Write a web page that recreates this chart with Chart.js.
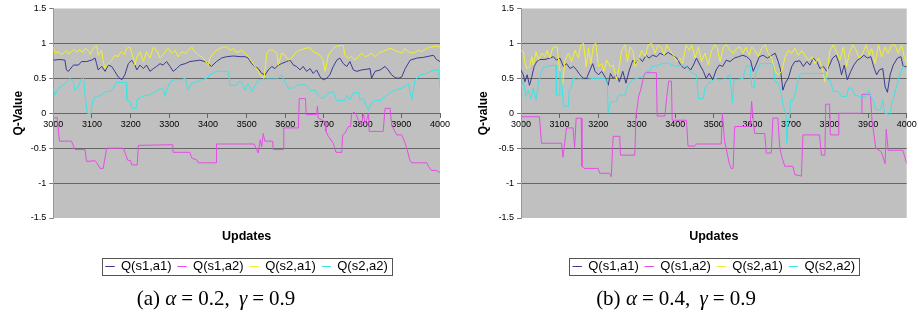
<!DOCTYPE html>
<html>
<head>
<meta charset="utf-8">
<script src="https://cdn.jsdelivr.net/npm/chart.js@4.4.1/dist/chart.umd.min.js"></script>
<style>
  html, body { margin: 0; padding: 0; background: #fff; }
  body { width: 919px; height: 326px; position: relative; overflow: hidden; }
  .cv { position: absolute; top: 0; }
  .cap { position: absolute; top: 286px; font-family: "Liberation Serif", serif; font-size: 21px; color: #000; white-space: nowrap; transform: translateX(-50%); }
  .cap i { font-style: italic; }
  .cap .eq { margin: 0 5px; }
  .cap .sp { margin-left: 4px; }
</style>
</head>
<body>
<div class="cv" style="left:0;width:455px;height:288px"><canvas id="c1"></canvas></div>
<div class="cv" style="left:460px;width:459px;height:288px"><canvas id="c2"></canvas></div>
<div class="cap" style="left:216px">(a) <i>α</i><span class="eq">=</span>0.2,<span class="sp"></span> <i>γ</i><span class="eq">=</span>0.9</div>
<div class="cap" style="left:676px">(b) <i>α</i><span class="eq">=</span>0.4,<span class="sp"></span> <i>γ</i><span class="eq">=</span>0.9</div>
<script>
// ---------- data ----------
const seriesNames = ["Q(s1,a1)", "Q(s1,a2)", "Q(s2,a1)", "Q(s2,a2)"];
const xTickLabels = [3000, 3100, 3200, 3300, 3400, 3500, 3600, 3700, 3800, 3900, 4000];
const yTickLabels = [-1.5, -1, -0.5, 0, 0.5, 1, 1.5];

// (a) alpha = 0.2
const aS1A1 = [[3000,0.76],[3017,0.77],[3030,0.76],[3034,0.62],[3039,0.60],[3052,0.69],[3065,0.69],[3073,0.74],[3086,0.74],[3099,0.76],[3108,0.79],[3112,0.71],[3116,0.62],[3125,0.67],[3134,0.60],[3142,0.69],[3151,0.67],[3159,0.60],[3168,0.52],[3177,0.48],[3185,0.55],[3194,0.71],[3203,0.76],[3211,0.69],[3216,0.62],[3224,0.69],[3233,0.64],[3241,0.69],[3250,0.60],[3259,0.64],[3267,0.67],[3276,0.71],[3284,0.69],[3293,0.74],[3302,0.67],[3310,0.60],[3319,0.64],[3328,0.69],[3341,0.71],[3353,0.74],[3366,0.75],[3379,0.76],[3392,0.74],[3401,0.71],[3409,0.67],[3422,0.74],[3435,0.79],[3448,0.81],[3466,0.82],[3483,0.81],[3496,0.81],[3504,0.79],[3513,0.71],[3522,0.67],[3530,0.64],[3539,0.57],[3548,0.55],[3556,0.62],[3565,0.67],[3573,0.64],[3582,0.69],[3590,0.71],[3603,0.74],[3612,0.76],[3621,0.69],[3629,0.67],[3638,0.62],[3646,0.67],[3655,0.60],[3664,0.64],[3672,0.57],[3681,0.62],[3690,0.52],[3698,0.48],[3707,0.50],[3715,0.55],[3724,0.67],[3733,0.76],[3741,0.79],[3750,0.71],[3759,0.67],[3767,0.74],[3776,0.62],[3785,0.60],[3797,0.62],[3810,0.63],[3819,0.64],[3823,0.50],[3832,0.60],[3845,0.62],[3858,0.67],[3866,0.62],[3875,0.55],[3884,0.51],[3892,0.50],[3901,0.52],[3910,0.64],[3923,0.76],[3940,0.79],[3957,0.80],[3974,0.82],[3983,0.83],[3991,0.77],[4000,0.74]];
const aS1A2 = [[3000,-0.05],[3004,-0.07],[3010,-0.06],[3016,-0.40],[3047,-0.40],[3056,-0.52],[3082,-0.52],[3086,-0.69],[3108,-0.68],[3112,-0.71],[3121,-0.79],[3129,-0.79],[3138,-0.50],[3181,-0.50],[3188,-0.60],[3192,-0.67],[3200,-0.68],[3203,-0.74],[3217,-0.74],[3220,-0.46],[3309,-0.45],[3310,-0.56],[3353,-0.56],[3358,-0.64],[3371,-0.67],[3375,-0.71],[3421,-0.71],[3422,-0.44],[3519,-0.44],[3526,-0.52],[3530,-0.57],[3535,-0.38],[3539,-0.48],[3543,-0.29],[3547,-0.40],[3567,-0.40],[3569,-0.52],[3595,-0.52],[3596,-0.21],[3634,-0.21],[3636,0.21],[3652,0.21],[3654,-0.02],[3681,-0.02],[3683,0.10],[3685,-0.07],[3703,-0.12],[3705,-0.26],[3711,-0.33],[3724,-0.43],[3731,-0.56],[3746,-0.56],[3748,-0.31],[3754,-0.29],[3763,-0.19],[3769,-0.19],[3771,-0.02],[3778,0.02],[3783,-0.02],[3789,-0.10],[3797,-0.17],[3802,0.00],[3806,-0.14],[3810,-0.10],[3815,0.00],[3817,-0.26],[3853,-0.26],[3858,0.07],[3871,0.07],[3875,-0.17],[3888,-0.31],[3901,-0.31],[3910,-0.43],[3915,-0.52],[3922,-0.67],[3927,-0.71],[3966,-0.71],[3970,-0.76],[3978,-0.82],[3991,-0.82],[4000,-0.85]];
const aS2A1 = [[3000,0.95],[3004,0.86],[3013,0.88],[3020,0.84],[3026,0.86],[3034,0.90],[3040,0.85],[3047,0.88],[3054,0.92],[3060,0.88],[3069,0.91],[3075,0.87],[3082,0.93],[3090,0.90],[3096,0.84],[3103,0.93],[3112,0.97],[3116,0.83],[3125,0.90],[3129,0.74],[3134,0.64],[3142,0.71],[3151,0.76],[3159,0.83],[3168,0.81],[3172,0.86],[3177,0.88],[3184,0.84],[3190,0.93],[3198,0.95],[3203,0.86],[3207,0.79],[3211,0.69],[3216,0.81],[3224,0.88],[3233,0.74],[3241,0.88],[3250,0.79],[3259,0.95],[3267,0.90],[3276,0.79],[3280,0.81],[3289,0.88],[3297,0.93],[3306,0.86],[3315,0.90],[3323,0.81],[3332,0.88],[3341,0.86],[3349,0.90],[3358,0.95],[3366,0.88],[3375,0.83],[3384,0.81],[3392,0.76],[3401,0.69],[3405,0.79],[3414,0.86],[3422,0.90],[3431,0.93],[3440,0.95],[3448,0.95],[3457,0.90],[3466,0.93],[3472,0.87],[3478,0.88],[3487,0.90],[3496,0.86],[3504,0.81],[3513,0.74],[3522,0.67],[3530,0.60],[3539,0.52],[3545,0.50],[3552,0.86],[3560,0.91],[3569,0.90],[3578,0.86],[3582,0.69],[3590,0.86],[3599,0.83],[3608,0.76],[3616,0.79],[3625,0.86],[3634,0.90],[3642,0.91],[3651,0.93],[3664,0.94],[3672,0.88],[3681,0.86],[3690,0.83],[3698,0.76],[3703,0.60],[3711,0.83],[3720,0.90],[3728,0.95],[3741,0.97],[3750,0.97],[3754,0.83],[3763,0.79],[3771,0.81],[3780,0.76],[3789,0.81],[3797,0.86],[3806,0.81],[3815,0.83],[3823,0.86],[3832,0.81],[3841,0.86],[3849,0.88],[3858,0.90],[3871,0.93],[3884,0.90],[3892,0.88],[3901,0.86],[3910,0.93],[3918,0.88],[3931,0.86],[3944,0.90],[3953,0.88],[3966,0.93],[3978,0.95],[3991,0.96],[4000,0.95]];
const aS2A2 = [[3000,0.36],[3004,0.26],[3013,0.36],[3026,0.40],[3034,0.45],[3043,0.50],[3052,0.45],[3056,0.33],[3065,0.38],[3073,0.50],[3078,0.52],[3082,0.26],[3088,0.00],[3097,-0.01],[3102,0.19],[3112,0.24],[3125,0.26],[3134,0.31],[3147,0.31],[3155,0.36],[3164,0.45],[3168,0.44],[3189,0.44],[3190,0.19],[3198,0.17],[3203,0.07],[3214,0.07],[3216,0.19],[3228,0.24],[3246,0.26],[3259,0.29],[3271,0.33],[3284,0.36],[3289,0.24],[3293,0.33],[3302,0.45],[3315,0.48],[3332,0.48],[3341,0.50],[3349,0.33],[3358,0.43],[3371,0.45],[3384,0.48],[3397,0.50],[3405,0.55],[3422,0.60],[3453,0.60],[3457,0.40],[3474,0.40],[3478,0.45],[3487,0.45],[3496,0.33],[3504,0.43],[3513,0.31],[3522,0.40],[3530,0.48],[3543,0.48],[3552,0.49],[3578,0.49],[3590,0.55],[3599,0.45],[3608,0.36],[3621,0.36],[3629,0.40],[3646,0.41],[3655,0.40],[3664,0.33],[3677,0.33],[3685,0.26],[3694,0.21],[3703,0.24],[3711,0.29],[3724,0.31],[3733,0.18],[3754,0.18],[3759,0.26],[3767,0.19],[3776,0.29],[3789,0.30],[3793,0.19],[3802,0.21],[3809,0.12],[3815,0.04],[3821,0.14],[3832,0.19],[3845,0.18],[3862,0.26],[3875,0.31],[3888,0.34],[3901,0.36],[3910,0.38],[3918,0.43],[3927,0.19],[3936,0.48],[3949,0.55],[3966,0.57],[3983,0.62],[3996,0.62],[4000,0.36]];

// (b) alpha = 0.4
const bS1A1 = [[3000,0.62],[3006,0.55],[3010,0.45],[3016,0.55],[3022,0.40],[3028,0.52],[3034,0.67],[3041,0.74],[3049,0.77],[3062,0.77],[3075,0.79],[3084,0.81],[3092,0.76],[3101,0.79],[3110,0.67],[3118,0.71],[3127,0.64],[3136,0.67],[3144,0.62],[3153,0.55],[3162,0.50],[3170,0.50],[3179,0.62],[3186,0.71],[3192,0.60],[3201,0.55],[3209,0.60],[3218,0.52],[3226,0.40],[3232,0.57],[3239,0.50],[3248,0.55],[3255,0.45],[3264,0.60],[3272,0.43],[3281,0.62],[3290,0.76],[3298,0.71],[3307,0.79],[3315,0.74],[3324,0.83],[3332,0.79],[3341,0.83],[3352,0.81],[3360,0.86],[3371,0.83],[3382,0.87],[3393,0.83],[3404,0.79],[3414,0.69],[3423,0.64],[3431,0.67],[3440,0.62],[3447,0.69],[3455,0.79],[3464,0.69],[3473,0.60],[3480,0.50],[3488,0.57],[3497,0.48],[3506,0.62],[3514,0.69],[3523,0.67],[3532,0.76],[3542,0.74],[3553,0.79],[3564,0.81],[3575,0.83],[3585,0.81],[3595,0.76],[3602,0.60],[3609,0.69],[3618,0.81],[3628,0.83],[3639,0.79],[3650,0.83],[3659,0.86],[3667,0.74],[3673,0.62],[3679,0.33],[3685,0.43],[3693,0.50],[3702,0.67],[3710,0.74],[3723,0.75],[3732,0.67],[3741,0.74],[3749,0.69],[3758,0.79],[3767,0.74],[3775,0.64],[3784,0.67],[3793,0.60],[3800,0.69],[3808,0.79],[3817,0.83],[3825,0.71],[3831,0.55],[3838,0.69],[3846,0.48],[3855,0.60],[3863,0.69],[3872,0.76],[3881,0.79],[3889,0.83],[3898,0.79],[3907,0.81],[3916,0.64],[3922,0.55],[3929,0.62],[3938,0.64],[3944,0.38],[3950,0.30],[3957,0.55],[3965,0.69],[3976,0.79],[3985,0.81],[3991,0.67],[4000,0.67]];
const bS1A2 = [[3000,-0.05],[3048,-0.05],[3053,-0.43],[3105,-0.43],[3109,-0.63],[3113,-0.43],[3118,-0.21],[3135,-0.21],[3139,-0.49],[3143,-0.07],[3156,-0.07],[3158,-0.76],[3165,-0.79],[3200,-0.79],[3204,-0.86],[3230,-0.86],[3234,-0.91],[3239,-0.33],[3256,-0.33],[3258,-0.60],[3295,-0.60],[3298,-0.05],[3305,0.24],[3310,0.33],[3318,0.52],[3322,0.58],[3351,0.58],[3353,-0.04],[3373,-0.04],[3378,0.24],[3383,0.46],[3390,0.46],[3392,-0.10],[3429,-0.10],[3433,-0.47],[3450,-0.47],[3455,-0.44],[3519,-0.44],[3522,0.00],[3528,-0.40],[3540,-0.72],[3545,-0.79],[3550,-0.79],[3554,-0.19],[3594,-0.19],[3598,0.17],[3602,-0.10],[3606,-0.29],[3632,-0.29],[3636,-0.57],[3649,-0.57],[3653,-0.07],[3666,-0.07],[3671,-0.50],[3676,-0.62],[3684,-0.76],[3705,-0.76],[3710,-0.88],[3727,-0.90],[3731,-0.31],[3774,-0.31],[3779,-0.60],[3788,-0.60],[3790,0.13],[3800,0.13],[3802,-0.31],[3822,-0.31],[3824,0.00],[3882,0.00],[3884,0.27],[3906,0.27],[3910,-0.10],[3920,-0.50],[3934,-0.55],[3944,-0.72],[3947,-0.23],[3952,-0.53],[3990,-0.53],[4000,-0.72]];
const bS2A1 = [[3000,0.90],[3006,0.88],[3010,0.74],[3015,0.64],[3023,0.67],[3028,0.81],[3032,0.69],[3039,0.88],[3045,0.76],[3054,0.86],[3062,0.81],[3068,0.90],[3075,0.79],[3082,0.93],[3088,0.95],[3094,0.95],[3099,0.67],[3108,0.42],[3114,0.76],[3123,0.86],[3131,0.74],[3140,0.90],[3149,0.79],[3155,0.98],[3162,1.00],[3169,0.67],[3175,0.93],[3181,0.71],[3188,0.98],[3194,1.00],[3201,0.67],[3209,0.71],[3215,0.60],[3222,0.76],[3231,0.67],[3239,0.69],[3248,0.48],[3255,0.67],[3261,0.90],[3270,0.98],[3276,0.74],[3283,0.95],[3290,0.90],[3296,0.67],[3304,0.76],[3313,0.90],[3322,0.81],[3330,0.98],[3339,1.00],[3347,0.86],[3356,0.98],[3365,0.93],[3371,0.83],[3378,0.98],[3386,0.90],[3395,0.83],[3404,0.74],[3412,0.79],[3419,0.71],[3428,0.98],[3436,0.90],[3443,0.98],[3451,0.79],[3460,0.95],[3468,0.74],[3477,0.86],[3486,0.69],[3494,0.90],[3503,0.98],[3509,0.93],[3516,0.74],[3525,0.95],[3533,0.98],[3542,0.90],[3551,0.86],[3559,0.93],[3568,0.95],[3576,0.86],[3583,0.95],[3592,0.83],[3598,0.95],[3607,0.90],[3615,0.81],[3624,0.93],[3633,0.98],[3641,0.86],[3650,0.79],[3659,0.60],[3667,0.55],[3676,0.60],[3685,0.81],[3693,0.90],[3702,0.86],[3710,0.93],[3719,0.83],[3728,0.90],[3736,0.83],[3745,0.76],[3754,0.81],[3762,0.71],[3771,0.79],[3780,0.67],[3788,0.45],[3793,0.55],[3801,0.90],[3810,0.98],[3818,0.88],[3827,0.76],[3836,0.95],[3844,0.67],[3851,0.86],[3860,0.98],[3869,0.90],[3877,0.79],[3886,0.86],[3895,0.98],[3903,0.83],[3909,0.93],[3918,0.71],[3927,0.98],[3935,0.81],[3944,0.95],[3952,0.86],[3961,0.98],[3970,0.98],[3978,0.86],[3987,0.98],[3993,0.83],[4000,0.69]];
const bS2A2 = [[3000,0.38],[3006,0.45],[3013,0.24],[3019,0.33],[3025,0.21],[3032,0.36],[3039,0.19],[3045,0.43],[3049,0.52],[3056,0.64],[3065,0.67],[3075,0.68],[3091,0.69],[3092,0.26],[3099,0.26],[3101,0.60],[3105,0.50],[3110,0.10],[3123,0.10],[3125,0.33],[3131,0.36],[3136,0.52],[3140,0.48],[3153,0.49],[3170,0.48],[3188,0.50],[3205,0.50],[3218,0.50],[3224,0.43],[3226,0.00],[3229,0.10],[3235,0.17],[3248,0.17],[3252,0.26],[3270,0.26],[3274,0.36],[3283,0.45],[3291,0.48],[3300,0.50],[3313,0.52],[3326,0.60],[3334,0.60],[3339,0.67],[3352,0.68],[3365,0.71],[3382,0.72],[3391,0.69],[3404,0.67],[3417,0.69],[3428,0.67],[3438,0.60],[3447,0.57],[3455,0.55],[3460,0.21],[3473,0.21],[3477,0.36],[3486,0.43],[3494,0.45],[3503,0.50],[3512,0.48],[3525,0.48],[3533,0.52],[3542,0.55],[3548,0.15],[3552,0.48],[3559,0.48],[3576,0.50],[3583,0.67],[3594,0.69],[3598,0.38],[3604,0.36],[3609,0.57],[3620,0.71],[3650,0.71],[3654,0.67],[3659,0.45],[3667,0.43],[3673,0.33],[3680,0.10],[3687,0.00],[3689,-0.43],[3693,-0.10],[3697,-0.02],[3699,0.19],[3706,0.19],[3713,0.33],[3719,0.52],[3728,0.57],[3788,0.57],[3793,0.48],[3801,0.48],[3810,0.31],[3823,0.31],[3831,0.24],[3844,0.24],[3849,0.36],[3858,0.36],[3865,0.26],[3879,0.24],[3892,0.23],[3901,0.33],[3907,0.24],[3914,0.19],[3920,0.05],[3932,0.05],[3938,0.19],[3941,0.05],[3944,0.00],[3957,-0.02],[3961,0.14],[3965,0.19],[3974,0.40],[3983,0.57],[3991,0.67],[4000,0.64]];

// ---------- styling ----------
const seriesColors = ["#3a3a90", "#e64ce6", "#f0f02c", "#3ce4e4"];
const drawOrder = [4, 3, 2, 1];

Chart.defaults.font.family = "'Liberation Sans', Arial, sans-serif";
Chart.defaults.color = "#000";

const plotBg = {
  id: "plotBg",
  beforeDraw(chart) {
    const {ctx, chartArea: a} = chart;
    ctx.save();
    ctx.fillStyle = "#c0c0c0";
    ctx.fillRect(a.left, a.top, a.right - a.left, a.bottom - a.top);
    ctx.restore();
  }
};
const legendFrame = {
  id: "legendFrame",
  afterDraw(chart) {
    const hb = chart.legend && chart.legend.legendHitBoxes;
    if (!hb || !hb.length) return;
    const l = Math.min(...hb.map(h => h.left)) - 4;
    const r = Math.max(...hb.map(h => h.left + h.width)) + 4;
    const t = hb[0].top - 2;
    const b = hb[0].top + hb[0].height + 2;
    const ctx = chart.ctx;
    ctx.save();
    ctx.strokeStyle = "#555";
    ctx.lineWidth = 1;
    ctx.strokeRect(Math.round(l) + 0.5, Math.round(t) + 0.5, Math.round(r - l), Math.round(b - t));
    ctx.restore();
  }
};

function makeChart(id, seriesList, yTitle, axisWidth, titlePad, rightPad) {
  const datasets = seriesList.map((pts, i) => ({
    label: seriesNames[i],
    data: pts.map(p => ({x: p[0], y: p[1]})),
    borderColor: seriesColors[i],
    backgroundColor: seriesColors[i],
    borderWidth: 1,
    pointRadius: 0,
    tension: 0,
    order: drawOrder[i]
  }));
  return new Chart(document.getElementById(id), {
    type: "line",
    data: {datasets},
    options: {
      responsive: true,
      maintainAspectRatio: false,
      animation: false,
      events: [],
      layout: {padding: {left: 0, right: rightPad, top: 8.5, bottom: 5}},
      scales: {
        x: {
          type: "linear",
          position: {y: 0},
          min: xTickLabels[0],
          max: xTickLabels[xTickLabels.length - 1],
          afterBuildTicks(s) { s.ticks = xTickLabels.map(v => ({value: v})); },
          ticks: {autoSkip: false, maxRotation: 0, padding: 2, font: {size: 9}, color: "#000",
                  callback: v => String(v)},
          grid: {drawOnChartArea: false, drawTicks: true, tickLength: 4, color: "#666"},
          border: {display: true, color: "#666", width: 1}
        },
        y: {
          min: yTickLabels[0],
          max: yTickLabels[yTickLabels.length - 1],
          afterBuildTicks(s) { s.ticks = yTickLabels.map(v => ({value: v})); },
          afterFit(s) { s.width = axisWidth; },
          ticks: {font: {size: 9}, color: "#000", padding: 3,
                  callback: v => String(Math.round(v * 10) / 10)},
          grid: {
            color: c => (Math.abs(c.tick.value) > 1.4 ? "rgba(0,0,0,0)" : "#666"),
            tickColor: "#777",
            tickLength: 4
          },
          border: {display: true, color: "#999", width: 1},
          title: {display: true, text: yTitle, font: {size: 12, weight: "bold"}, padding: {top: titlePad, bottom: 0}}
        }
      },
      plugins: {
        legend: {
          position: "bottom",
          fullSize: false,
          labels: {
            boxWidth: 9, boxHeight: 0, padding: 6,
            font: {size: 13}, color: "#000",
            sort: (a, b) => a.datasetIndex - b.datasetIndex
          }
        },
        title: {
          display: true, text: "Updates", position: "bottom", fullSize: false, weight: 500,
          font: {size: 12.5, weight: "bold"}, color: "#000",
          padding: {top: 11.5, bottom: 9.5}
        },
        tooltip: {enabled: false}
      }
    },
    plugins: [plotBg, legendFrame]
  });
}

makeChart("c1", [aS1A1, aS1A2, aS2A1, aS2A2], "Q-Value", 53.3, 11, 15);
makeChart("c2", [bS1A1, bS1A2, bS2A1, bS2A2], "Q-value", 61, 16, 12.3);
</script>
</body>
</html>
